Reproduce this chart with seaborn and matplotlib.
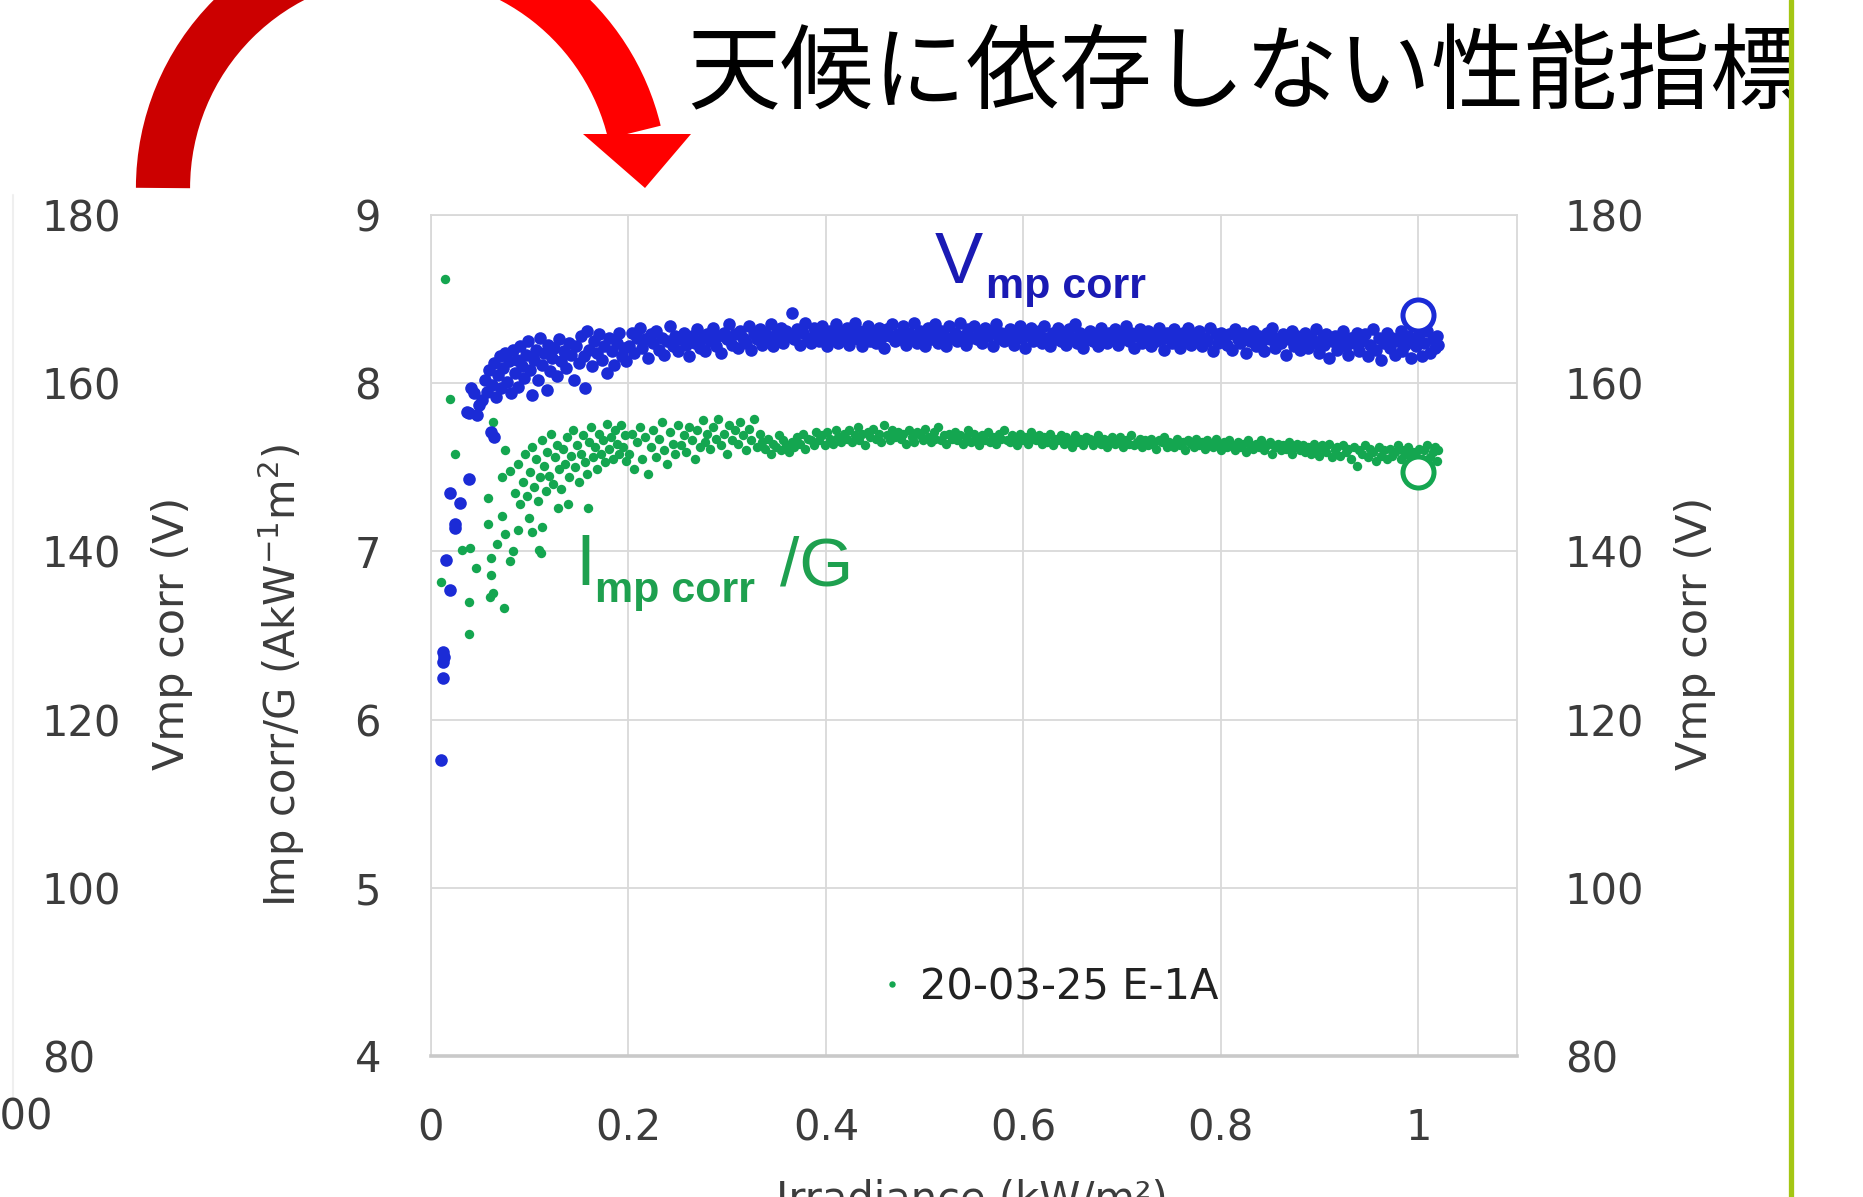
import numpy as np
import pandas as pd
import matplotlib
matplotlib.use("Agg")
import matplotlib.pyplot as plt
import seaborn as sns
from matplotlib.patches import Arc, Polygon, Rectangle
from matplotlib.lines import Line2D

# ---------------- data ----------------
title = "天候に依存しない性能指標"
x_ticks = [0, 0.2, 0.4, 0.6, 0.8, 1]
x_tick_labels = ["0", "0.2", "0.4", "0.6", "0.8", "1"]
i_ticks = [4, 5, 6, 7, 8, 9]
v_ticks = [80, 100, 120, 140, 160, 180]
legend_label = "20-03-25 E-1A"

# low irradiance, Vmp corr (V)
irr_low_v = [0.010, 0.012, 0.0125, 0.013, 0.0125, 0.019, 0.015, 0.024, 0.024, 0.029, 0.019, 0.038,
             0.036, 0.038, 0.041, 0.044, 0.061, 0.064, 0.047, 0.049,
             0.052, 0.055, 0.057, 0.059, 0.062, 0.064, 0.066, 0.068, 0.070, 0.071, 0.073, 0.075,
             0.077, 0.079, 0.081, 0.083, 0.085, 0.087, 0.088, 0.090, 0.092, 0.094, 0.096, 0.098,
             0.100, 0.102, 0.104, 0.106, 0.108, 0.110, 0.112, 0.114, 0.117, 0.119, 0.121, 0.123,
             0.125, 0.128, 0.130, 0.132, 0.135, 0.137, 0.140, 0.142, 0.145, 0.147, 0.150, 0.152,
             0.155, 0.156, 0.158, 0.160, 0.163, 0.165, 0.168, 0.170, 0.173, 0.175, 0.178, 0.180,
             0.183, 0.185, 0.188, 0.190, 0.193, 0.195, 0.198]
vmp_low = [115.2, 125.0, 126.8, 127.4, 128.0, 135.4, 139.0, 142.8, 143.2, 145.8, 147.0, 148.6,
           156.6, 156.4, 159.4, 158.8, 154.2, 153.6, 156.2, 157.4,
           158.0, 160.4, 159.0, 161.6, 159.8, 162.4, 158.4, 161.0, 163.2, 159.4, 161.8, 163.6,
           160.2, 162.6, 158.8, 164.0, 161.2, 162.8, 159.6, 164.4, 162.0, 160.6, 163.4, 165.0,
           161.6, 158.6, 162.8, 164.0, 160.4, 165.4, 162.2, 163.6, 159.2, 164.6, 161.4, 163.0,
           164.2, 160.8, 165.2, 162.6, 163.8, 161.8, 164.8, 163.4, 160.4, 164.4, 162.4, 165.6,
           163.2, 159.4, 166.2, 164.0, 162.0, 165.0, 163.6, 165.8, 162.8, 164.4, 161.2, 165.4,
           163.8, 162.2, 164.8, 166.0, 163.2, 164.2, 162.6]

# low irradiance, Imp corr / G
irr_low_i = [0.0098, 0.014, 0.019, 0.024, 0.031, 0.038, 0.038, 0.039, 0.046, 0.058, 0.058, 0.060,
             0.061, 0.061, 0.063, 0.063, 0.067, 0.072, 0.072, 0.074, 0.075, 0.075, 0.080, 0.080,
             0.083, 0.088, 0.099, 0.102, 0.109, 0.111, 0.112, 0.129, 0.139, 0.159,
             0.085, 0.088, 0.090, 0.093, 0.095, 0.097, 0.100, 0.102, 0.104, 0.106, 0.108, 0.110,
             0.112, 0.114, 0.116, 0.118, 0.120, 0.122, 0.124, 0.126, 0.128, 0.130, 0.132, 0.134,
             0.136, 0.138, 0.140, 0.142, 0.144, 0.146, 0.148, 0.150, 0.152, 0.154, 0.156, 0.158,
             0.160, 0.162, 0.164, 0.166, 0.168, 0.170, 0.172, 0.174, 0.176, 0.178, 0.180, 0.182,
             0.184, 0.186, 0.188, 0.190, 0.192, 0.194, 0.196, 0.198]
imp_low = [6.82, 8.62, 7.905, 7.58, 7.01, 6.51, 6.70, 7.02, 6.90, 7.32, 7.165, 6.73,
           6.96, 6.86, 6.75, 7.77, 7.045, 7.44, 7.21, 6.665, 7.60, 7.105, 7.48, 6.94,
           7.00, 7.125, 7.20, 7.115, 7.01, 6.99, 7.145, 7.26, 7.28, 7.26,
           7.35, 7.52, 7.28, 7.41, 7.58, 7.33, 7.47, 7.62, 7.38, 7.55, 7.30, 7.44,
           7.66, 7.51, 7.36, 7.59, 7.45, 7.70, 7.40, 7.56, 7.63, 7.49, 7.37, 7.61,
           7.52, 7.68, 7.44, 7.57, 7.72, 7.50, 7.63, 7.41, 7.58, 7.69, 7.53, 7.46,
           7.65, 7.74, 7.56, 7.62, 7.49, 7.70, 7.58, 7.66, 7.53, 7.76, 7.61, 7.68,
           7.55, 7.72, 7.64, 7.58, 7.75, 7.62, 7.69, 7.54]

# plateau: shared irradiance, Vmp corr (V) and Imp corr / G
irr = [0.201, 0.204, 0.206, 0.209, 0.212, 0.214, 0.217, 0.220, 0.223, 0.225,
       0.228, 0.231, 0.234, 0.236, 0.239, 0.242, 0.245, 0.247, 0.250, 0.253,
       0.256, 0.258, 0.261, 0.264, 0.267, 0.269, 0.272, 0.275, 0.278, 0.280,
       0.283, 0.286, 0.289, 0.291, 0.294, 0.297, 0.300, 0.302, 0.305, 0.308,
       0.311, 0.313, 0.316, 0.319, 0.322, 0.324, 0.327, 0.330, 0.333, 0.335,
       0.338, 0.341, 0.344, 0.346, 0.349, 0.352, 0.355, 0.357, 0.360, 0.363,
       0.366, 0.368, 0.371, 0.374, 0.377, 0.379, 0.382, 0.385, 0.388, 0.390,
       0.393, 0.396, 0.399, 0.401, 0.404, 0.407, 0.410, 0.412, 0.415, 0.418,
       0.421, 0.423, 0.426, 0.429, 0.432, 0.434, 0.437, 0.440, 0.443, 0.445,
       0.448, 0.451, 0.454, 0.456, 0.459, 0.462, 0.465, 0.467, 0.470, 0.473,
       0.476, 0.478, 0.481, 0.484, 0.487, 0.489, 0.492, 0.495, 0.498, 0.500,
       0.503, 0.506, 0.509, 0.511, 0.514, 0.517, 0.520, 0.522, 0.525, 0.528,
       0.531, 0.533, 0.536, 0.539, 0.542, 0.544, 0.547, 0.550, 0.553, 0.555,
       0.558, 0.561, 0.564, 0.566, 0.569, 0.572, 0.575, 0.577, 0.580, 0.583,
       0.586, 0.588, 0.591, 0.594, 0.597, 0.599, 0.602, 0.605, 0.608, 0.610,
       0.613, 0.616, 0.619, 0.621, 0.624, 0.627, 0.630, 0.632, 0.635, 0.638,
       0.641, 0.643, 0.646, 0.649, 0.652, 0.654, 0.657, 0.660, 0.663, 0.665,
       0.668, 0.671, 0.674, 0.676, 0.679, 0.682, 0.685, 0.687, 0.690, 0.693,
       0.696, 0.698, 0.701, 0.704, 0.707, 0.709, 0.712, 0.715, 0.718, 0.720,
       0.723, 0.726, 0.729, 0.731, 0.734, 0.737, 0.740, 0.742, 0.745, 0.748,
       0.751, 0.753, 0.756, 0.759, 0.762, 0.764, 0.767, 0.770, 0.773, 0.775,
       0.778, 0.781, 0.784, 0.786, 0.789, 0.792, 0.795, 0.797, 0.800, 0.803,
       0.806, 0.808, 0.811, 0.814, 0.817, 0.819, 0.822, 0.825, 0.828, 0.830,
       0.833, 0.836, 0.839, 0.841, 0.844, 0.847, 0.850, 0.852, 0.855, 0.858,
       0.861, 0.863, 0.866, 0.869, 0.872, 0.874, 0.877, 0.880, 0.883, 0.885,
       0.888, 0.891, 0.894, 0.896, 0.899, 0.902, 0.905, 0.907, 0.910, 0.913,
       0.916, 0.918, 0.921, 0.924, 0.927, 0.929, 0.932, 0.935, 0.938, 0.940,
       0.943, 0.946, 0.949, 0.951, 0.954, 0.957, 0.960, 0.962, 0.965, 0.968,
       0.971, 0.973, 0.976, 0.979, 0.982, 0.984, 0.987, 0.990, 0.993, 0.995,
       0.998, 1.001, 1.004, 1.006, 1.009, 1.012, 1.015, 1.017, 1.019, 1.020]

vmp = [164.4, 166.0, 163.6, 165.4, 166.6, 164.2, 165.2, 163.0, 165.8, 164.8,
       166.2, 164.0, 165.4, 163.4, 165.0, 166.8, 164.4, 165.6, 163.8, 165.2,
       166.0, 164.6, 163.2, 165.6, 164.8, 166.4, 164.2, 165.4, 163.8, 165.8,
       165.0, 166.6, 164.4, 165.6, 163.6, 166.0, 165.2, 167.0, 164.6, 165.8,
       164.2, 166.2, 165.4, 164.8, 166.8, 164.0, 165.8, 165.2, 166.4, 164.6,
       166.0, 165.0, 167.0, 164.4, 165.8, 165.4, 166.6, 164.8, 166.2, 165.6,
       168.4, 165.2, 166.4, 164.6, 166.0, 167.2, 165.4, 164.8, 166.6, 165.8,
       165.0, 166.8, 165.6, 164.4, 166.2, 165.4, 167.0, 164.8, 166.0, 165.2,
       166.6, 164.6, 165.8, 167.2, 165.2, 166.2, 164.4, 165.6, 166.8, 165.0,
       166.0, 164.8, 166.6, 165.4, 164.2, 166.4, 165.6, 167.0, 165.0, 165.8,
       165.2, 166.8, 164.6, 166.0, 165.6, 167.2, 164.8, 166.2, 165.4, 164.4,
       166.6, 165.2, 165.8, 167.0, 164.8, 166.2, 165.6, 164.4, 166.8, 165.4,
       166.0, 165.0, 167.2, 165.6, 164.6, 166.4, 165.4, 166.8, 165.2, 165.8,
       164.8, 166.6, 165.6, 166.2, 164.4, 167.0, 165.4, 166.0, 165.0, 165.8,
       166.4, 165.2, 164.6, 166.0, 166.8, 165.4, 164.2, 165.8, 166.6, 165.0,
       165.6, 166.2, 164.8, 166.8, 165.4, 164.4, 166.0, 165.2, 166.6, 165.0,
       165.8, 164.6, 166.4, 165.4, 167.0, 164.8, 166.0, 164.2, 165.6, 165.2,
       166.2, 165.0, 165.8, 164.4, 166.6, 165.4, 164.8, 166.0, 165.2, 166.4,
       164.6, 165.8, 165.2, 166.8, 165.0, 166.0, 164.2, 165.6, 166.4, 164.8,
       165.4, 166.2, 164.4, 165.8, 165.0, 166.6, 165.2, 164.0, 166.0, 165.4,
       164.8, 166.4, 165.4, 164.2, 166.0, 165.0, 166.6, 164.6, 165.6, 165.2,
       166.2, 164.4, 165.4, 165.0, 166.6, 163.8, 165.8, 164.8, 166.0, 165.2,
       164.6, 165.8, 164.0, 166.4, 165.2, 164.8, 166.0, 163.6, 165.4, 165.0,
       166.2, 164.4, 165.6, 164.8, 163.8, 166.0, 165.2, 166.6, 164.2, 165.4,
       164.8, 165.8, 163.4, 165.2, 166.2, 164.4, 165.6, 164.0, 165.0, 166.0,
       164.2, 165.4, 164.8, 166.4, 163.6, 165.2, 164.6, 165.8, 163.0, 165.0,
       165.6, 164.0, 165.2, 166.2, 164.4, 163.4, 165.4, 164.8, 166.0, 163.8,
       165.0, 165.8, 163.2, 164.6, 166.4, 164.0, 165.4, 162.8, 164.8, 166.0,
       164.2, 165.4, 163.4, 165.0, 166.2, 163.8, 164.6, 165.6, 163.0, 165.2,
       164.4, 165.8, 163.2, 164.8, 166.2, 163.6, 165.2, 164.2, 165.6, 164.6]

imp = [7.58, 7.70, 7.49, 7.65, 7.74, 7.55, 7.68, 7.46, 7.62, 7.72,
       7.56, 7.67, 7.77, 7.60, 7.52, 7.71, 7.64, 7.58, 7.75, 7.63,
       7.69, 7.59, 7.74, 7.66, 7.55, 7.72, 7.62, 7.78, 7.65, 7.70,
       7.61, 7.74, 7.67, 7.79, 7.63, 7.70, 7.58, 7.75, 7.66, 7.72,
       7.64, 7.77, 7.69, 7.60, 7.73, 7.66, 7.79, 7.62, 7.70, 7.65,
       7.61, 7.67, 7.58, 7.64, 7.62, 7.69, 7.60, 7.66, 7.63, 7.59,
       7.65, 7.62, 7.68, 7.64, 7.70, 7.61, 7.67, 7.66, 7.63, 7.71,
       7.66, 7.69, 7.63, 7.71, 7.67, 7.64, 7.72, 7.68, 7.65, 7.70,
       7.67, 7.72, 7.65, 7.69, 7.74, 7.66, 7.70, 7.63, 7.71, 7.68,
       7.73, 7.67, 7.70, 7.65, 7.75, 7.69, 7.66, 7.72, 7.68, 7.71,
       7.67, 7.70, 7.64, 7.72, 7.68, 7.65, 7.71, 7.69, 7.66, 7.73,
       7.68, 7.65, 7.71, 7.67, 7.74, 7.66, 7.69, 7.64, 7.70, 7.67,
       7.71, 7.66, 7.69, 7.64, 7.68, 7.72, 7.65, 7.70, 7.67, 7.63,
       7.69, 7.66, 7.71, 7.65, 7.68, 7.64, 7.70, 7.67, 7.72, 7.66,
       7.65, 7.69, 7.67, 7.63, 7.70, 7.66, 7.68, 7.64, 7.71, 7.67,
       7.66, 7.69, 7.64, 7.68, 7.65, 7.70, 7.63, 7.67, 7.66, 7.69,
       7.64, 7.68, 7.66, 7.62, 7.69, 7.65, 7.67, 7.63, 7.68, 7.66,
       7.67, 7.63, 7.66, 7.69, 7.64, 7.67, 7.62, 7.66, 7.68, 7.64,
       7.65, 7.68, 7.62, 7.66, 7.64, 7.69, 7.63, 7.65, 7.67, 7.62,
       7.66, 7.63, 7.67, 7.64, 7.61, 7.66, 7.65, 7.68, 7.62, 7.65,
       7.64, 7.62, 7.67, 7.63, 7.65, 7.60, 7.66, 7.64, 7.62, 7.67,
       7.63, 7.65, 7.61, 7.66, 7.64, 7.62, 7.67, 7.63, 7.60, 7.65,
       7.62, 7.66, 7.63, 7.60, 7.65, 7.62, 7.64, 7.59, 7.66, 7.63,
       7.61, 7.64, 7.62, 7.66, 7.60, 7.63, 7.65, 7.58, 7.62, 7.64,
       7.60, 7.63, 7.61, 7.65, 7.58, 7.62, 7.64, 7.60, 7.63, 7.59,
       7.62, 7.58, 7.64, 7.60, 7.57, 7.63, 7.61, 7.59, 7.64, 7.56,
       7.60, 7.62, 7.57, 7.63, 7.59, 7.61, 7.55, 7.62, 7.51, 7.60,
       7.58, 7.63, 7.56, 7.61, 7.59, 7.54, 7.62, 7.57, 7.60, 7.55,
       7.61, 7.57, 7.59, 7.63, 7.55, 7.60, 7.58, 7.62, 7.56, 7.59,
       7.57, 7.61, 7.55, 7.60, 7.63, 7.56, 7.59, 7.62, 7.54, 7.60]

# reference (STC) points, open circles
ref_irr = [1.0]
ref_vmp = [168.1]
ref_imp = [7.47]

# ---------------- styling ----------------
BLUE = "#1b2bd6"
BLUE_TXT = "#1a1ab4"
GREEN = "#14a650"
GREEN_TXT = "#1ea04f"
TXT = "#3c3c3c"
GRID = "#d9d9d9"

sns.set_theme(style="white")
plt.rcParams["font.family"] = ["DejaVu Sans"]
plt.rcParams["mathtext.fontset"] = "dejavusans"

W, H = 1863, 1197
fig = plt.figure(figsize=(W / 100, H / 100), dpi=100)
fig.patch.set_facecolor("white")

L, R, T, B = 431, 1517, 215, 1056
ax = fig.add_axes([L / W, 1 - B / H, (R - L) / W, (B - T) / H])
ax.set_facecolor("none")
axv = ax.twinx()
axv.set_facecolor("none")

df_i = pd.DataFrame({"irr": irr_low_i + irr, "imp_g": imp_low + imp})
df_v = pd.DataFrame({"irr": irr_low_v + irr, "vmp": vmp_low + vmp})

sns.scatterplot(data=df_i, x="irr", y="imp_g", ax=ax, color=GREEN, s=46,
                linewidth=0, legend=False, zorder=3)
sns.scatterplot(x=ref_irr, y=ref_imp, ax=ax, color="white", edgecolor=GREEN,
                s=500, linewidth=3.6, legend=False, zorder=4)
sns.scatterplot(data=df_v, x="irr", y="vmp", ax=axv, color=BLUE, s=82,
                linewidth=0, legend=False, zorder=3)
sns.scatterplot(x=ref_irr, y=ref_vmp, ax=axv, color="white", edgecolor=BLUE,
                s=500, linewidth=3.6, legend=False, zorder=4)

ax.set_xlim(0, 1.1)
ax.set_ylim(4, 9)
axv.set_ylim(80, 180)
ax.set_xticks(x_ticks)
ax.set_xticklabels(x_tick_labels)
ax.set_yticks(i_ticks)
ax.set_yticklabels([str(v) for v in i_ticks])
axv.set_yticks(v_ticks)
axv.set_yticklabels([str(v) for v in v_ticks])
for a in (ax, axv):
    a.set_xlabel("")
    a.set_ylabel("")
ax.grid(True, color=GRID, linewidth=1.3)
ax.set_axisbelow(True)
axv.grid(False)

ax.tick_params(axis="x", length=0, pad=37, labelsize=30, labelcolor=TXT)
ax.tick_params(axis="y", length=0, pad=36, labelsize=30, labelcolor=TXT)
axv.tick_params(axis="y", length=0, pad=34.5, labelsize=30, labelcolor=TXT)

for s in ["left", "top", "right"]:
    ax.spines[s].set_color(GRID)
    ax.spines[s].set_linewidth(1.3)
ax.spines["bottom"].set_color("#c9c9c9")
ax.spines["bottom"].set_linewidth(2.6)
for s in axv.spines.values():
    s.set_visible(False)

# legend
handle = Line2D([], [], marker="o", linestyle="", color=GREEN, markersize=3.6)
ax.legend(handles=[handle], labels=[legend_label], loc="center left",
          bbox_to_anchor=(882 / W, 1 - 987 / H), bbox_transform=fig.transFigure,
          frameon=False, fontsize=30, handlelength=0.5, handletextpad=0.4,
          borderpad=0, borderaxespad=0, labelcolor="#222222")

# left outer Vmp axis (tick labels only)
axl = fig.add_axes([38 / W, 1 - B / H, 1 / W, (B - T) / H])
axl.set_facecolor("none")
axl.set_ylim(80, 180)
axl.set_xticks([])
axl.set_yticks(v_ticks)
axl.set_yticklabels([str(v) for v in v_ticks])
axl.yaxis.tick_right()
axl.tick_params(axis="y", length=0, pad=2, labelsize=30, labelcolor=TXT)
for s in axl.spines.values():
    s.set_visible(False)

# ---------------- overlay in pixel coordinates ----------------
ov = fig.add_axes([0, 0, 1, 1], zorder=10)
ov.set_xlim(0, W)
ov.set_ylim(H, 0)
ov.axis("off")
ov.patch.set_alpha(0)

ov.text(172, 633, "Vmp corr (V)", rotation=90, ha="center", va="center",
        fontsize=31, color=TXT)
ov.text(281, 676, r"Imp corr/G (AkW$^{-1}$m$^{2}$)", rotation=90, ha="center",
        va="center", fontsize=30, color=TXT)
ov.text(1695, 633, "Vmp corr (V)", rotation=90, ha="center", va="center",
        fontsize=31, color=TXT)
ov.text(53, 1118, "100", ha="right", va="center", fontsize=30, color=TXT)
ov.text(972, 1212, "Irradiance (kW/m²)", ha="center", va="baseline",
        fontsize=30, color=TXT)

# series annotations
ov.text(935, 283, "V", fontsize=52, family="Liberation Sans", color=BLUE_TXT, va="baseline")
ov.text(986, 298, "mp corr", fontsize=31, family="Liberation Sans", weight="bold",
        color=BLUE_TXT, va="baseline")
ov.text(575, 585, "I", fontsize=52, family="Liberation Sans", color=GREEN_TXT, va="baseline")
ov.text(595, 602, "mp corr", fontsize=31, family="Liberation Sans", weight="bold",
        color=GREEN_TXT, va="baseline")
ov.text(780, 585, "/G", fontsize=50, family="Liberation Sans", color=GREEN_TXT, va="baseline")

# title
ov.text(687, 76, title, fontsize=67, family=["Noto Sans CJK JP", "DejaVu Sans"],
        ha="left", va="center", color="black")

# curved red arrow (apex above the top edge, so the top is clipped)
ov.add_patch(Arc((402, 188), 478, 478, theta1=180, theta2=270, lw=39,
                 color="#cc0000", capstyle="butt"))
ov.add_patch(Arc((402, 188), 478, 478, theta1=269.5, theta2=346.5, lw=39,
                 color="#ff0000", capstyle="butt"))
ov.add_patch(Polygon([(583, 134), (691, 134), (645, 188)], closed=True,
                     color="#ff0000", lw=0))

# faint left edge line and slide separator
ov.plot([13, 13], [195, 1100], color="#efefef", lw=1.5)
ov.add_patch(Rectangle((1793, 0), 80, H, color="white", lw=0, zorder=5))
ov.plot([1791, 1791], [0, H], color="#a4c614", lw=3.8, zorder=6)

fig.savefig("out.png", dpi=100, facecolor="white")
